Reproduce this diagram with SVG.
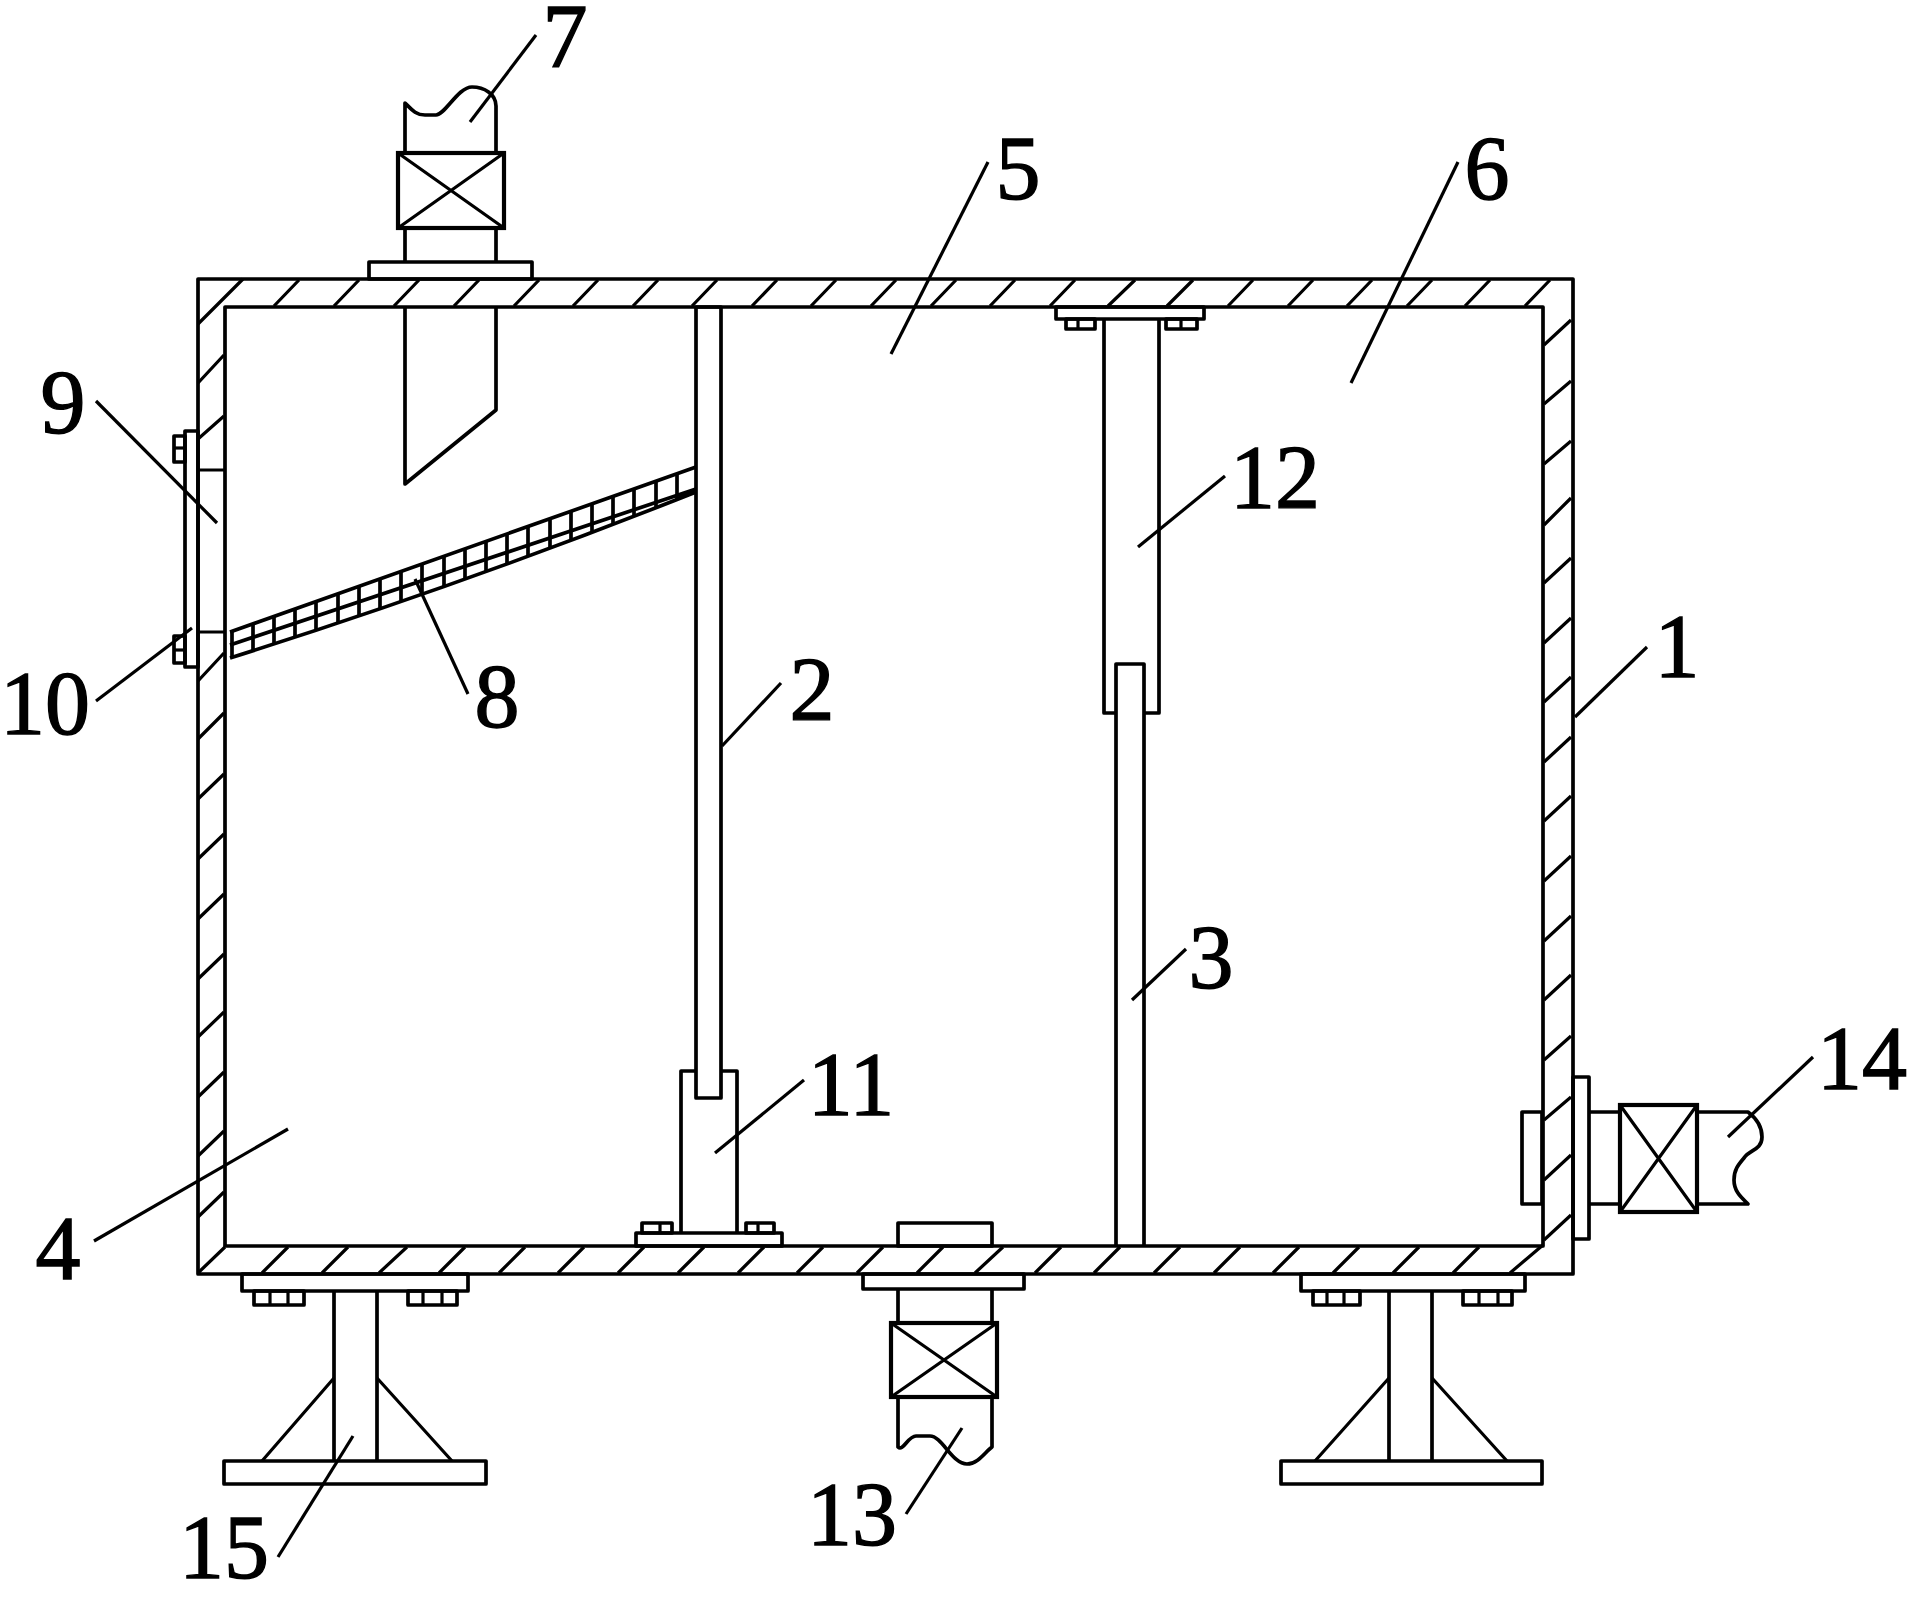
<svg xmlns="http://www.w3.org/2000/svg" width="1908" height="1598" viewBox="0 0 1908 1598">
<style>
.l{fill:none;stroke:#000;stroke-width:3.7;stroke-linejoin:round}
.h{fill:none;stroke:#000;stroke-width:3.2}
.v{fill:#fff;stroke:#000;stroke-width:4.2}
.t{font-family:"Liberation Serif","Times New Roman",serif;font-size:90px;fill:#000;text-anchor:middle;stroke:#000;stroke-width:1.4}
</style>
<rect width="1908" height="1598" fill="#fff"/>
<g id="tank">
<rect class="l" x="198" y="279" width="1375" height="995"/>
<rect class="l" x="225" y="307" width="1318" height="939"/>
<path class="h" d="M198 324L243 279M274 306L299 280M334 306L359 280M394 306L419 280M454 306L479 280M514 306L539 280M573 306L598 280M633 306L658 280M692 306L717 280M752 306L777 280M811 306L836 280M871 306L896 280M931 306L956 280M990 306L1015 280M1050 306L1075 280M1108 306L1135 280M1167 306L1193 280M1228 306L1253 280M1288 306L1313 280M1347 306L1372 280M1407 306L1432 280M1465 306L1490 280M1525 306L1550 280"/>
<path class="h" d="M198 383L224 355M198 439L224 416M198 681L224 653M198 739L224 713M198 799L224 774M198 859L224 834M198 919L224 894M198 979L224 954M198 1037L224 1012M198 1097L224 1072M198 1156L224 1131M198 1217L224 1192"/>
<path class="h" d="M1544 345L1571 320M1544 404L1571 381M1544 464L1571 441M1544 525L1571 498M1544 583L1571 558M1544 643L1571 618M1544 702L1571 677M1544 762L1571 737M1544 821L1571 796M1544 881L1571 856M1544 941L1571 916M1544 1000L1571 975M1544 1060L1571 1036M1544 1120L1571 1097M1544 1180L1571 1155M1544 1240L1571 1215"/>
<path class="h" d="M198 1273L225 1247M262 1273L288 1247M322 1273L348 1247M379 1273L407 1247M439 1273L465 1247M499 1273L525 1247M558 1273L584 1247M618 1273L644 1247M678 1273L704 1247M738 1273L764 1247M797 1273L823 1247M857 1273L883 1247M917 1273L943 1247M975 1273L1003 1247M1035 1273L1061 1247M1094 1273L1120 1247M1154 1273L1180 1247M1214 1273L1240 1247M1273 1273L1299 1247M1333 1273L1359 1247M1393 1273L1419 1247M1453 1273L1479 1247M1510 1273L1543 1245"/>
<path class="h" d="M198 470H225M198 632H225"/>
</g>
<g id="inlet-7">
<path class="l" d="M405 153V103C412 110 416 115 425 115H436C445 115 458 87 472 87C484 87 496 94 496 106V153M405 228V262M496 228V262"/>
<rect class="v" x="398" y="153" width="106" height="75"/>
<path class="h" d="M398 153L504 228M504 153L398 228"/>
<rect class="l" x="369" y="262" width="163" height="17"/>
<path class="l" d="M405 307V484L496 410V307"/>
</g>
<g id="baffle-2">
<rect class="l" x="696" y="307" width="25" height="791"/>
</g>
<g id="seat-11">
<path class="l" d="M696 1071H681V1233M721 1071H737V1233"/>
<rect class="l" x="636" y="1233" width="146" height="13"/>
<rect class="l" x="642" y="1223" width="30" height="10"/>
<path class="h" d="M660 1223V1233"/>
<rect class="l" x="746" y="1223" width="28" height="10"/>
<path class="h" d="M758 1223V1233"/>
</g>
<g id="baffle-3">
<path class="l" d="M1116 1246V664H1144V1246"/>
</g>
<g id="seat-12">
<path class="l" d="M1116 713H1104V319M1144 713H1159V319"/>
<rect class="l" x="1056" y="307" width="148" height="12"/>
<rect class="l" x="1066" y="319" width="29" height="10"/>
<path class="h" d="M1078 319V329"/>
<rect class="l" x="1166" y="319" width="31" height="10"/>
<path class="h" d="M1181 319V329"/>
</g>
<g id="screen-8">
<path class="l" d="M230 632L696 467M230 658Q462 585 696 492M230 645L696 489"/>
<path class="l" d="M232 631V657M253 624V651M274 616V644M295 609V637M316 601V630M338 594V623M359 586V616M380 579V608M401 571V602M422 564V594M444 556V587M465 549V579M486 541V572M507 534V564M528 526V556M550 518V548M571 511V540M592 503V532M613 496V524M634 489V516M656 481V508M677 473V499"/>
</g>
<g id="cleanout-9">
<rect class="l" x="185" y="431" width="13" height="236"/>
<rect class="l" x="174" y="436" width="11" height="26"/>
<path class="h" d="M174 448H185"/>
<rect class="l" x="174" y="636" width="11" height="27"/>
<path class="h" d="M174 650H185"/>
</g>
<g id="outlet-13">
<rect class="l" x="898" y="1223" width="94" height="23"/>
<rect class="l" x="863" y="1274" width="161" height="15"/>
<path class="l" d="M898 1289V1323M992 1289V1323M898 1397V1447C903 1452 908 1436 916 1436H930C942 1436 952 1464 967 1464C978 1464 985 1452 992 1447V1397"/>
<rect class="v" x="891" y="1323" width="106" height="74"/>
<path class="h" d="M891 1323L997 1397M997 1323L891 1397"/>
</g>
<g id="outlet-14">
<rect class="l" x="1522" y="1112" width="20" height="92"/>
<rect class="l" x="1573" y="1077" width="16" height="162"/>
<path class="l" d="M1589 1112H1620M1589 1204H1620M1697 1112H1748C1756 1118 1762 1127 1762 1137C1762 1150 1749 1150 1744 1158C1738 1165 1734 1170 1734 1180C1734 1192 1742 1198 1748 1204H1697"/>
<rect class="v" x="1620" y="1105" width="77" height="107"/>
<path class="h" d="M1620 1105L1697 1212M1697 1105L1620 1212"/>
</g>
<g id="stand-15a">
<rect class="l" x="242" y="1274" width="226" height="17"/>
<rect class="l" x="254" y="1291" width="50" height="14"/>
<path class="h" d="M270 1291V1305M288 1291V1305"/>
<rect class="l" x="408" y="1291" width="49" height="14"/>
<path class="h" d="M423 1291V1305M442 1291V1305"/>
<path class="l" d="M334 1291V1461M377 1291V1461"/>
<rect class="l" x="224" y="1461" width="262" height="23"/>
<path class="h" d="M262 1461L334 1378M377 1378L452 1461"/>
</g>
<g id="stand-15b">
<rect class="l" x="1301" y="1274" width="224" height="17"/>
<rect class="l" x="1313" y="1291" width="47" height="14"/>
<path class="h" d="M1327 1291V1305M1344 1291V1305"/>
<rect class="l" x="1463" y="1291" width="49" height="14"/>
<path class="h" d="M1479 1291V1305M1498 1291V1305"/>
<path class="l" d="M1389 1291V1461M1432 1291V1461"/>
<rect class="l" x="1281" y="1461" width="261" height="23"/>
<path class="h" d="M1315 1461L1389 1378M1432 1378L1507 1461"/>
</g>
<g id="leaders" class="h">
<path d="M1575 717L1647 647"/>
<path d="M722 746L781 683"/>
<path d="M1132 1000L1186 949"/>
<path d="M94 1241L288 1129"/>
<path d="M891 354L988 162"/>
<path d="M1351 383L1458 162"/>
<path d="M470 122L536 35"/>
<path d="M415 579L468 694"/>
<path d="M96 401L217 523"/>
<path d="M96 701L192 628"/>
<path d="M715 1153L804 1080"/>
<path d="M1138 547L1225 476"/>
<path d="M906 1514L962 1428"/>
<path d="M1728 1137L1813 1057"/>
<path d="M278 1557L353 1436"/>
</g>
<g id="labels">
<text class="t" x="1677" y="677">1</text>
<text class="t" x="812" y="720">2</text>
<text class="t" x="1211" y="988">3</text>
<text class="t" x="58" y="1279">4</text>
<text class="t" x="1018" y="199">5</text>
<text class="t" x="1487" y="199">6</text>
<text class="t" x="565" y="67">7</text>
<text class="t" x="497" y="727">8</text>
<text class="t" x="63" y="433">9</text>
<text class="t" x="45" y="734">10</text>
<text class="t" x="851" y="1115">11</text>
<text class="t" x="1275" y="508">12</text>
<text class="t" x="852" y="1545">13</text>
<text class="t" x="1862" y="1089">14</text>
<text class="t" x="224" y="1578">15</text>
</g>
</svg>
